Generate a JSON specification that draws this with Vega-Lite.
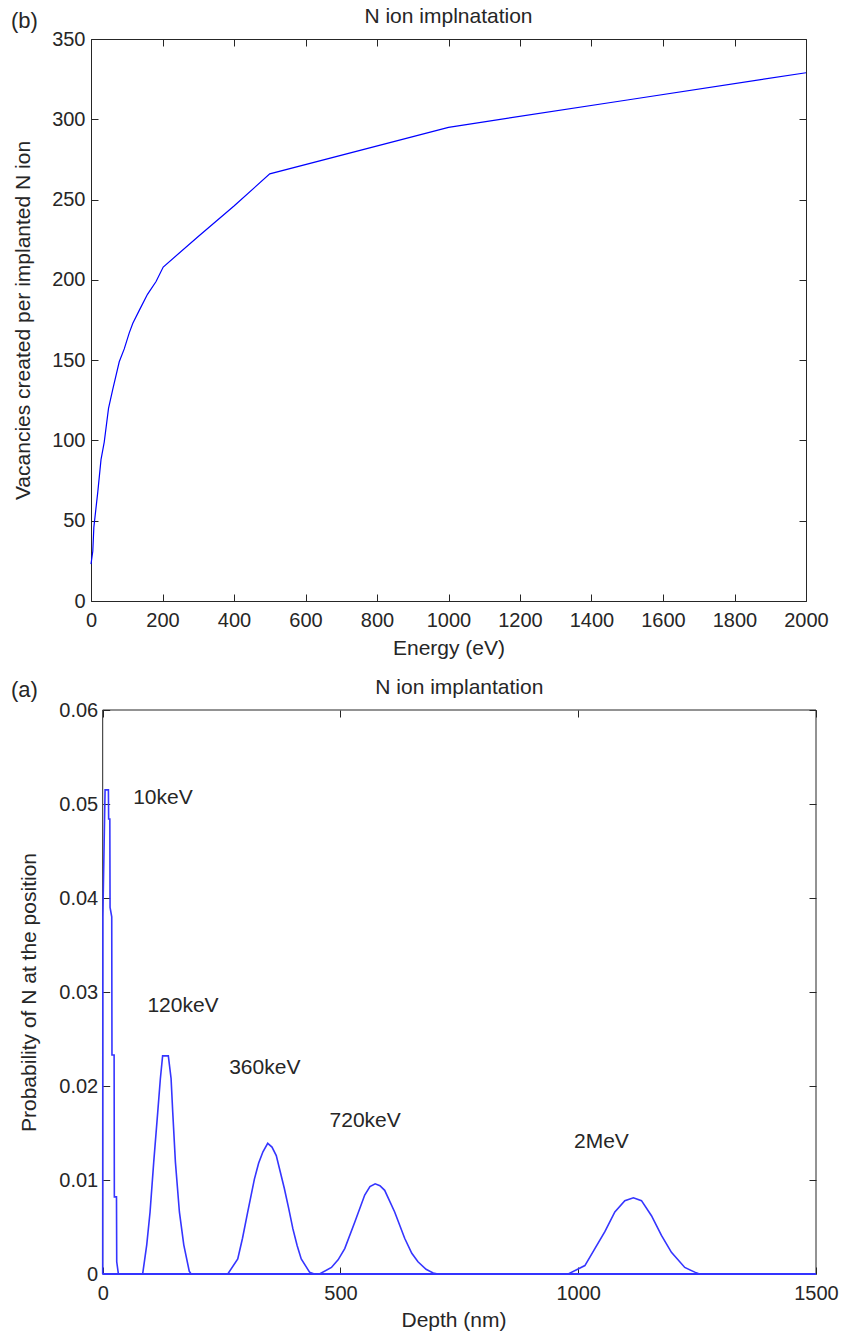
{
  "$schema": "https://vega.github.io/schema/vega-lite/v6.json",
  "padding": {"left": 10, "top": 5, "right": 5, "bottom": 3},
  "background": "white",
  "spacing": 18,
  "config": {
    "font": "Liberation Sans",
    "view": {"stroke": "#262626", "strokeWidth": 1},
    "axis": {"grid": false, "domain": false, "tickColor": "#262626", "tickSize": -7, "tickWidth": 1, "labelFontSize": 20, "labelColor": "#262626", "titleFontSize": 21, "titleFontWeight": "normal", "titleColor": "#262626", "labelFont": "Liberation Sans", "titleFont": "Liberation Sans", "labelFlush": false, "labelOverlap": false},
    "axisX": {"labelPadding": 16},
    "axisY": {"labelPadding": 13},
    "text": {"font": "Liberation Sans", "color": "#262626", "baseline": "middle"}
  },
  "vconcat": [
    {
      "width": 715,
      "height": 562,
      "layer": [
        {
          "data": {"values": [
            {"energy": 0, "vacancies": 23}, {"energy": 5, "vacancies": 31}, {"energy": 8, "vacancies": 46},
            {"energy": 19, "vacancies": 68}, {"energy": 28, "vacancies": 88}, {"energy": 37, "vacancies": 99},
            {"energy": 49, "vacancies": 120}, {"energy": 61, "vacancies": 132}, {"energy": 79, "vacancies": 149},
            {"energy": 93, "vacancies": 157}, {"energy": 107, "vacancies": 167}, {"energy": 117, "vacancies": 173},
            {"energy": 135, "vacancies": 181}, {"energy": 158, "vacancies": 191}, {"energy": 182, "vacancies": 199},
            {"energy": 202, "vacancies": 208}, {"energy": 300, "vacancies": 227}, {"energy": 400, "vacancies": 246},
            {"energy": 500, "vacancies": 266}, {"energy": 1000, "vacancies": 295}, {"energy": 1500, "vacancies": 312},
            {"energy": 2000, "vacancies": 329}
          ]},
          "mark": {"type": "line", "color": "#0000ff", "strokeWidth": 1.2},
          "encoding": {
            "x": {"field": "energy", "type": "quantitative", "scale": {"domain": [0, 2000], "nice": false},
                  "axis": {"title": "Energy (eV)", "values": [0, 200, 400, 600, 800, 1000, 1200, 1400, 1600, 1800, 2000], "format": "d", "titlePadding": 7}},
            "y": {"field": "vacancies", "type": "quantitative", "scale": {"domain": [0, 350], "nice": false},
                  "axis": {"title": "Vacancies created per implanted N ion", "values": [0, 50, 100, 150, 200, 250, 300, 350], "format": "d", "titlePadding": 18}}
          }
        },
        {
          "data": {"values": [{"energy": -224, "vacancies": 361.5, "label": "(b)"}]},
          "mark": {"type": "text", "align": "left", "fontSize": 22},
          "encoding": {
            "x": {"field": "energy", "type": "quantitative", "scale": {"domain": [0, 2000], "nice": false},
                  "axis": {"orient": "top", "labels": false, "title": null, "values": [0, 200, 400, 600, 800, 1000, 1200, 1400, 1600, 1800, 2000]}},
            "y": {"field": "vacancies", "type": "quantitative", "scale": {"domain": [0, 350], "nice": false},
                  "axis": {"orient": "right", "labels": false, "title": null, "values": [0, 50, 100, 150, 200, 250, 300, 350]}},
            "text": {"field": "label"}
          }
        },
        {
          "data": {"values": [{"energy": 1000, "vacancies": 363.6, "label": "N ion implnatation"}]},
          "mark": {"type": "text", "align": "center", "fontSize": 21},
          "encoding": {
            "x": {"field": "energy", "type": "quantitative", "scale": {"domain": [0, 2000], "nice": false}, "axis": null},
            "y": {"field": "vacancies", "type": "quantitative", "scale": {"domain": [0, 350], "nice": false}, "axis": null},
            "text": {"field": "label"}
          }
        }
      ],
      "resolve": {"axis": {"x": "independent", "y": "independent"}}
    },
    {
      "width": 725,
      "height": 564,
      "view": {"stroke": null},
      "layer": [
        {
          "data": {"values": [
            {"x": 0, "x2": 1500, "y": 0, "y2": 0},
            {"x": 0, "x2": 1500, "y": 0.06, "y2": 0.06},
            {"x": 0, "x2": 0, "y": 0, "y2": 0.06},
            {"x": 1500, "x2": 1500, "y": 0, "y2": 0.06}
          ]},
          "mark": {"type": "rule", "color": "#262626", "strokeWidth": 1},
          "encoding": {
            "x": {"field": "x", "type": "quantitative", "scale": {"domain": [-24.6, 1500], "nice": false, "zero": false}, "axis": null},
            "x2": {"field": "x2"},
            "y": {"field": "y", "type": "quantitative", "scale": {"domain": [0, 0.06], "nice": false}, "axis": null},
            "y2": {"field": "y2"}
          }
        },
        {
          "data": {"values": [
            {"s": "10keV", "depth": 0, "prob": 0}, {"s": "10keV", "depth": 0.3, "prob": 0.038}, {"s": "10keV", "depth": 5, "prob": 0.0515},
            {"s": "10keV", "depth": 12, "prob": 0.0515}, {"s": "10keV", "depth": 12.5, "prob": 0.0484}, {"s": "10keV", "depth": 15, "prob": 0.0484},
            {"s": "10keV", "depth": 15.5, "prob": 0.039}, {"s": "10keV", "depth": 19, "prob": 0.038}, {"s": "10keV", "depth": 19.5, "prob": 0.0233},
            {"s": "10keV", "depth": 24, "prob": 0.0233}, {"s": "10keV", "depth": 24.5, "prob": 0.0082}, {"s": "10keV", "depth": 29, "prob": 0.0082},
            {"s": "10keV", "depth": 29.5, "prob": 0.0013}, {"s": "10keV", "depth": 33, "prob": 0}, {"s": "10keV", "depth": 1500, "prob": 0},

            {"s": "120keV", "depth": 0, "prob": 0}, {"s": "120keV", "depth": 84, "prob": 0}, {"s": "120keV", "depth": 92.6, "prob": 0.0031},
            {"s": "120keV", "depth": 99.6, "prob": 0.0066}, {"s": "120keV", "depth": 107.3, "prob": 0.0119}, {"s": "120keV", "depth": 115.7, "prob": 0.0172},
            {"s": "120keV", "depth": 121.3, "prob": 0.0208}, {"s": "120keV", "depth": 126, "prob": 0.0232}, {"s": "120keV", "depth": 138, "prob": 0.0232},
            {"s": "120keV", "depth": 143.8, "prob": 0.0208}, {"s": "120keV", "depth": 147.3, "prob": 0.0172}, {"s": "120keV", "depth": 152.9, "prob": 0.0119},
            {"s": "120keV", "depth": 161.3, "prob": 0.0066}, {"s": "120keV", "depth": 170.5, "prob": 0.0031}, {"s": "120keV", "depth": 182, "prob": 0.0003},
            {"s": "120keV", "depth": 186, "prob": 0}, {"s": "120keV", "depth": 1500, "prob": 0},

            {"s": "360keV", "depth": 0, "prob": 0}, {"s": "360keV", "depth": 263, "prob": 0}, {"s": "360keV", "depth": 284, "prob": 0.0016},
            {"s": "360keV", "depth": 294, "prob": 0.0038}, {"s": "360keV", "depth": 305, "prob": 0.0066}, {"s": "360keV", "depth": 319, "prob": 0.0101},
            {"s": "360keV", "depth": 328, "prob": 0.0118}, {"s": "360keV", "depth": 337, "prob": 0.013}, {"s": "360keV", "depth": 347, "prob": 0.0139},
            {"s": "360keV", "depth": 356, "prob": 0.0135}, {"s": "360keV", "depth": 365, "prob": 0.0126}, {"s": "360keV", "depth": 382, "prob": 0.0091},
            {"s": "360keV", "depth": 391, "prob": 0.007}, {"s": "360keV", "depth": 400, "prob": 0.0048}, {"s": "360keV", "depth": 409, "prob": 0.003},
            {"s": "360keV", "depth": 417.5, "prob": 0.0016}, {"s": "360keV", "depth": 435, "prob": 0.0002}, {"s": "360keV", "depth": 445, "prob": 0},
            {"s": "360keV", "depth": 1500, "prob": 0},

            {"s": "720keV", "depth": 0, "prob": 0}, {"s": "720keV", "depth": 456, "prob": 0}, {"s": "720keV", "depth": 481, "prob": 0.0007},
            {"s": "720keV", "depth": 495, "prob": 0.0015}, {"s": "720keV", "depth": 509, "prob": 0.0027}, {"s": "720keV", "depth": 530, "prob": 0.0055},
            {"s": "720keV", "depth": 551, "prob": 0.0084}, {"s": "720keV", "depth": 562, "prob": 0.0093}, {"s": "720keV", "depth": 573, "prob": 0.0096},
            {"s": "720keV", "depth": 583, "prob": 0.0094}, {"s": "720keV", "depth": 593, "prob": 0.0089}, {"s": "720keV", "depth": 614, "prob": 0.0066},
            {"s": "720keV", "depth": 635, "prob": 0.0038}, {"s": "720keV", "depth": 650, "prob": 0.0022}, {"s": "720keV", "depth": 663, "prob": 0.0013},
            {"s": "720keV", "depth": 680, "prob": 0.0005}, {"s": "720keV", "depth": 695, "prob": 0.0001}, {"s": "720keV", "depth": 705, "prob": 0},
            {"s": "720keV", "depth": 1500, "prob": 0},

            {"s": "2MeV", "depth": 0, "prob": 0}, {"s": "2MeV", "depth": 979, "prob": 0}, {"s": "2MeV", "depth": 1014, "prob": 0.0009},
            {"s": "2MeV", "depth": 1035, "prob": 0.0027}, {"s": "2MeV", "depth": 1056, "prob": 0.0045}, {"s": "2MeV", "depth": 1077, "prob": 0.0066},
            {"s": "2MeV", "depth": 1098, "prob": 0.0078}, {"s": "2MeV", "depth": 1116, "prob": 0.0081}, {"s": "2MeV", "depth": 1133, "prob": 0.0078},
            {"s": "2MeV", "depth": 1154, "prob": 0.0062}, {"s": "2MeV", "depth": 1175, "prob": 0.0041}, {"s": "2MeV", "depth": 1196, "prob": 0.0023},
            {"s": "2MeV", "depth": 1224, "prob": 0.0007}, {"s": "2MeV", "depth": 1245, "prob": 0.0002}, {"s": "2MeV", "depth": 1255, "prob": 0},
            {"s": "2MeV", "depth": 1500, "prob": 0}
          ]},
          "mark": {"type": "line", "color": "#3535ff", "strokeWidth": 1.6},
          "encoding": {
            "x": {"field": "depth", "type": "quantitative", "scale": {"domain": [-24.6, 1500], "nice": false, "zero": false},
                  "axis": {"title": "Depth (nm)", "values": [0, 500, 1000, 1500], "format": "d", "titlePadding": 6}},
            "y": {"field": "prob", "type": "quantitative", "scale": {"domain": [0, 0.06], "nice": false},
                  "axis": {"title": "Probability of N at the position", "values": [0, 0.01, 0.02, 0.03, 0.04, 0.05, 0.06], "format": ".2~f", "titlePadding": 19, "labelPadding": 12, "offset": -11.7}},
            "detail": {"field": "s", "type": "nominal"}
          }
        },
        {
          "data": {"values": [
            {"depth": -193, "prob": 0.0621, "label": "(a)", "fs": 22},
            {"depth": 64, "prob": 0.0506, "label": "10keV", "fs": 21},
            {"depth": 94, "prob": 0.0285, "label": "120keV", "fs": 21},
            {"depth": 266, "prob": 0.0219, "label": "360keV", "fs": 21},
            {"depth": 477, "prob": 0.0163, "label": "720keV", "fs": 21},
            {"depth": 991, "prob": 0.014, "label": "2MeV", "fs": 21}
          ]},
          "mark": {"type": "text", "align": "left"},
          "encoding": {
            "x": {"field": "depth", "type": "quantitative", "scale": {"domain": [-24.6, 1500], "nice": false, "zero": false},
                  "axis": {"orient": "top", "labels": false, "title": null, "values": [0, 500, 1000, 1500]}},
            "y": {"field": "prob", "type": "quantitative", "scale": {"domain": [0, 0.06], "nice": false},
                  "axis": {"orient": "right", "labels": false, "title": null, "values": [0, 0.01, 0.02, 0.03, 0.04, 0.05, 0.06]}},
            "text": {"field": "label"},
            "size": {"field": "fs", "type": "quantitative", "scale": null}
          }
        },
        {
          "data": {"values": [{"depth": 750, "prob": 0.0623, "label": "N ion implantation"}]},
          "mark": {"type": "text", "align": "center", "fontSize": 21},
          "encoding": {
            "x": {"field": "depth", "type": "quantitative", "scale": {"domain": [-24.6, 1500], "nice": false, "zero": false}, "axis": null},
            "y": {"field": "prob", "type": "quantitative", "scale": {"domain": [0, 0.06], "nice": false}, "axis": null},
            "text": {"field": "label"}
          }
        }
      ],
      "resolve": {"axis": {"x": "independent", "y": "independent"}}
    }
  ]
}
